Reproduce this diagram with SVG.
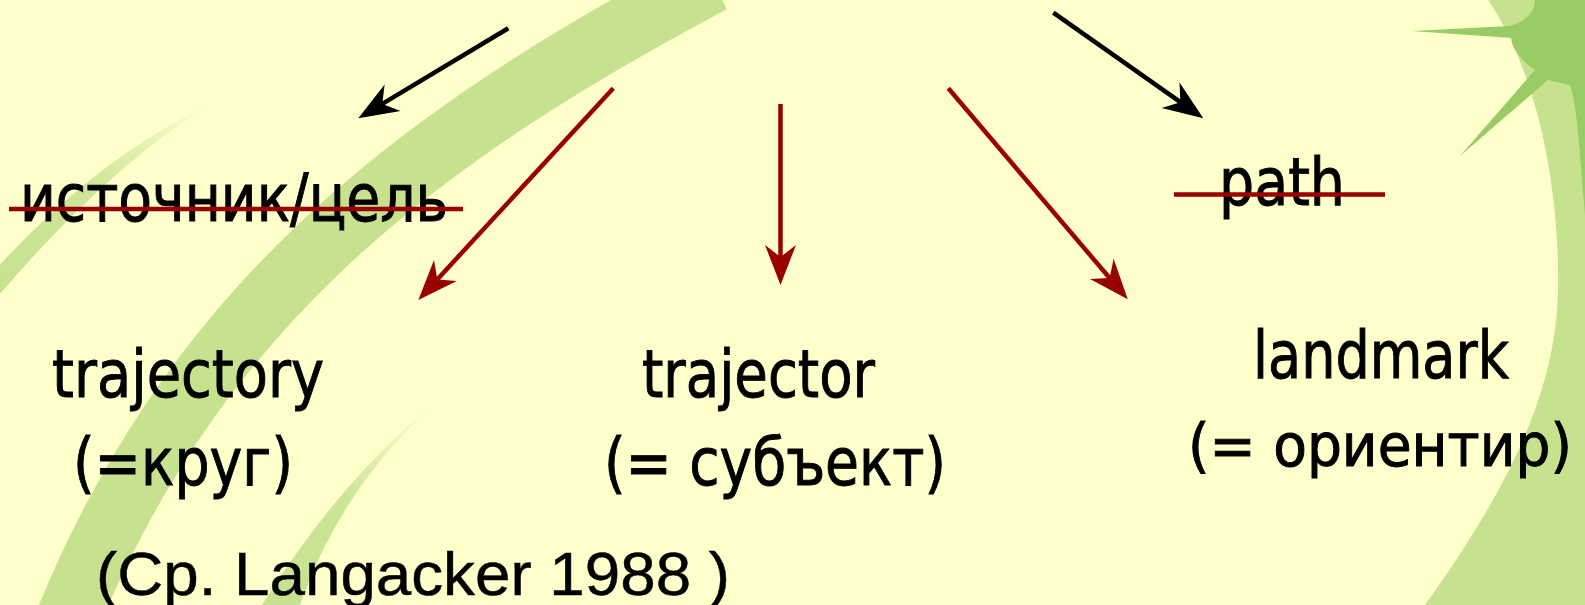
<svg xmlns="http://www.w3.org/2000/svg" width="1585" height="605" viewBox="0 0 1585 605">
  <style>
    .t { font-family: "DejaVu Sans Condensed", "DejaVu Sans", sans-serif; font-stretch: condensed; font-size: 66px; fill: #000; stroke: #000; stroke-width: 0.9; }
    .t2 { font-family: "DejaVu Sans Condensed", "DejaVu Sans", sans-serif; font-stretch: condensed; font-size: 58px; fill: #000; stroke: #000; stroke-width: 0.9; }
    .ref { font-family: "Liberation Sans", Arial, sans-serif; font-size: 62px; fill: #000; stroke: #000; stroke-width: 0.5; }
    .strike { stroke: #990000; stroke-width: 4.5; }
    .blk { stroke: #000; stroke-width: 4.5; fill: none; marker-end: url(#ah-k); }
    .red { stroke: #990000; stroke-width: 4.5; fill: none; marker-end: url(#ah-r); }
    .band { fill: #C6E28F; }
  </style>
  <defs>
    <marker id="ah-k" viewBox="-14 -17 44 34" refX="0" refY="0" markerWidth="44" markerHeight="34" orient="auto" markerUnits="userSpaceOnUse">
      <path d="M28,0 L-12,-15.5 L0,0 L-12,15.5 Z" fill="#000"/>
    </marker>
    <marker id="ah-r" viewBox="-14 -17 44 34" refX="0" refY="0" markerWidth="44" markerHeight="34" orient="auto" markerUnits="userSpaceOnUse">
      <path d="M28,0 L-12,-15.5 L0,0 L-12,15.5 Z" fill="#990000"/>
    </marker>
    <linearGradient id="fadeA" gradientUnits="userSpaceOnUse" x1="210" y1="105" x2="0" y2="290">
      <stop offset="0" stop-color="#C6E28F" stop-opacity="0"/>
      <stop offset="0.5" stop-color="#C6E28F" stop-opacity="0.85"/>
      <stop offset="1" stop-color="#C6E28F" stop-opacity="1"/>
    </linearGradient>
    <linearGradient id="fadeB" gradientUnits="userSpaceOnUse" x1="432" y1="406" x2="280" y2="605">
      <stop offset="0" stop-color="#C6E28F" stop-opacity="0"/>
      <stop offset="0.5" stop-color="#C6E28F" stop-opacity="0.9"/>
      <stop offset="1" stop-color="#C6E28F" stop-opacity="1"/>
    </linearGradient>
  </defs>

  <g id="background">
    <rect x="0" y="0" width="1585" height="605" fill="#FFFFCC"/>
    <path d="M712,-19 C400,146 188,317 62,633" fill="none" stroke="#C6E28F" stroke-width="64"/>
    <path d="M207,106 Q97,158 -5,270 L-5,300 Q103,172 207,106 Z" fill="url(#fadeA)"/>
    <path d="M432,406 Q340,480 262,605 L300,605 Q340,490 432,406 Z" fill="url(#fadeB)"/>
    <path class="band" d="M1488,0 C1530,60 1560,170 1558,290 C1556,400 1500,500 1425,605 L1585,605 L1585,0 Z"/>
    <path d="M1535,0 L1585,0 L1585,215 C1580,160 1578,110 1570,85 L1548,80 L1460,156 L1535,70 C1520,60 1510,45 1512,38 L1412,31 L1510,26 C1525,22 1535,12 1535,0 Z" fill="#9ACC66"/>
  </g>

  <g id="connectors">
    <line class="blk" x1="508.3" y1="28.3" x2="382.3" y2="103.9"/>
    <line class="red" x1="613.3" y1="88.3" x2="437.3" y2="279.4"/>
    <line class="red" x1="780.5" y1="104" x2="780.5" y2="257"/>
    <line class="red" x1="948.3" y1="88.3" x2="1109.6" y2="278"/>
    <line class="blk" x1="1053.3" y1="12.7" x2="1180.4" y2="102.2"/>
  </g>

  <g id="node-source-goal">
    <text class="t" x="20" y="221" textLength="428" lengthAdjust="spacingAndGlyphs">источник/цель</text>
    <line class="strike" x1="9" y1="209" x2="463" y2="209"/>
  </g>

  <g id="node-path">
    <text class="t" x="1219" y="205" textLength="126" lengthAdjust="spacingAndGlyphs">path</text>
    <line class="strike" x1="1174" y1="194.5" x2="1385" y2="194.5"/>
  </g>

  <g id="node-trajectory">
    <text class="t" x="52" y="397" textLength="272" lengthAdjust="spacingAndGlyphs">trajectory</text>
    <text class="t" x="73" y="485" textLength="220" lengthAdjust="spacingAndGlyphs">(=круг)</text>
  </g>

  <g id="node-trajector">
    <text class="t" x="642" y="397" textLength="233" lengthAdjust="spacingAndGlyphs">trajector</text>
    <text class="t" x="604" y="485" textLength="342" lengthAdjust="spacingAndGlyphs">(= субъект)</text>
  </g>

  <g id="node-landmark">
    <text class="t" x="1253" y="378" textLength="256" lengthAdjust="spacingAndGlyphs">landmark</text>
    <text class="t2" x="1188" y="466" textLength="384" lengthAdjust="spacingAndGlyphs">(= ориентир)</text>
  </g>

  <g id="note-reference">
    <text class="ref" x="96" y="595" textLength="634" lengthAdjust="spacingAndGlyphs">(Ср. Langacker 1988 )</text>
  </g>
</svg>
